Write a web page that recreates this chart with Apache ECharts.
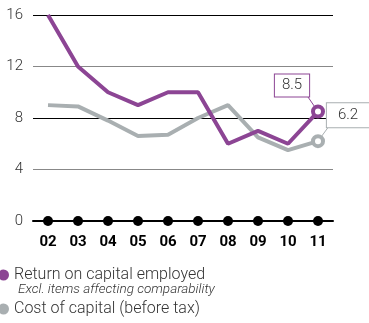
<!DOCTYPE html>
<html>
<head>
<meta charset="utf-8">
<script src="https://cdn.jsdelivr.net/npm/echarts@6/dist/echarts.min.js"></script>
<style>
  html, body { margin: 0; padding: 0; background: #fff; }
  #chart { width: 369px; height: 323px; }
</style>
</head>
<body>
<div id="chart"></div>
<script>
// Years on the category axis
const years = ['02', '03', '04', '05', '06', '07', '08', '09', '10', '11'];
// Return on capital employed, %
const roce = [16, 12, 10, 9, 10, 10, 6, 7, 6, 8.5];
// Cost of capital (before tax), %
const costOfCapital = [9, 8.9, 7.8, 6.6, 6.7, 8, 9, 6.5, 5.5, 6.2];
// Baseline dots sit on zero
const baseline = [0, 0, 0, 0, 0, 0, 0, 0, 0, 0];
const yTicks = { min: 0, max: 16, interval: 4 };

const PURPLE = '#8c4594';
const GREY = '#a9afb1';
const FONT = 'Roboto, "Liberation Sans", Arial, sans-serif';

// Callout offsets of the end-value boxes relative to their points
const callouts = [
  { series: 1, values: roce, color: PURPLE, dx: -26, dy: -26, padding: [4, 7, 3, 7], corner: [15, 10] },
  { series: 0, values: costOfCapital, color: GREY, dx: 30, dy: -26, padding: [5, 11, 4, 11], corner: [-19, 11] }
];

// Only the final year carries a hollow marker and a boxed value label
function withEndMarker(values, color, c) {
  return values.map((v, i) => {
    if (i !== values.length - 1) return v;
    return {
      value: v,
      symbol: 'circle',
      symbolSize: 10,
      itemStyle: { color: '#fff', borderColor: color, borderWidth: 4 },
      label: {
        show: true,
        formatter: String(v),
        position: 'inside',
        offset: [c.dx, c.dy],
        color: '#333',
        fontFamily: FONT,
        fontWeight: 300,
        fontSize: 15,
        backgroundColor: '#fff',
        borderColor: color,
        borderWidth: 1,
        padding: c.padding
      }
    };
  });
}

const chart = echarts.init(document.getElementById('chart'), null, { renderer: 'canvas' });

chart.setOption({
  animation: false,
  grid: { left: 33, right: 36, top: 15, bottom: 102, containLabel: false },
  xAxis: {
    type: 'category',
    data: years,
    boundaryGap: true,
    axisLine: { show: true, lineStyle: { color: '#000', width: 2 } },
    axisTick: { show: false },
    axisLabel: {
      color: '#000', fontWeight: 'bold', fontSize: 15, fontFamily: FONT, margin: 14
    }
  },
  yAxis: {
    type: 'value',
    min: yTicks.min,
    max: yTicks.max,
    interval: yTicks.interval,
    axisLine: { show: false },
    axisTick: { show: false },
    axisLabel: { color: '#333', fontSize: 15, fontWeight: 300, fontFamily: FONT, margin: 10 },
    splitLine: {
      show: true,
      lineStyle: { color: ['#000', '#888', '#000', '#888', '#000'], width: 1 }
    }
  },
  legend: {
    orient: 'vertical',
    left: -7,
    top: 262,
    itemGap: 18,
    itemWidth: 11,
    itemHeight: 11,
    icon: 'circle',
    data: [
      { name: 'Return on capital employed', itemStyle: { color: PURPLE } },
      { name: 'Cost of capital (before tax)', itemStyle: { color: GREY } }
    ],
    textStyle: { color: '#333', fontSize: 16, fontWeight: 300, fontFamily: FONT },
    selectedMode: false
  },
  series: [
    {
      name: 'Cost of capital (before tax)',
      type: 'line',
      data: withEndMarker(costOfCapital, GREY, callouts[1]),
      symbol: 'none',
      lineStyle: { color: GREY, width: 4 },
      itemStyle: { color: GREY },
      z: 3
    },
    {
      name: 'Return on capital employed',
      type: 'line',
      data: withEndMarker(roce, PURPLE, callouts[0]),
      symbol: 'none',
      lineStyle: { color: PURPLE, width: 4 },
      itemStyle: { color: PURPLE },
      z: 4
    },
    {
      name: 'baseline',
      type: 'line',
      data: baseline,
      symbol: 'circle',
      symbolSize: 10,
      lineStyle: { width: 0, opacity: 0 },
      itemStyle: { color: '#000' },
      z: 5,
      silent: true
    }
  ]
});

// Subtitle under the first legend entry, and the callout leader lines
const last = years.length - 1;
const graphics = [{
  type: 'text',
  left: 18,
  top: 283,
  style: {
    text: 'Excl. items affecting comparability',
    fill: '#333',
    font: 'italic 300 13.5px ' + FONT
  }
}];
callouts.forEach(c => {
  const p = chart.convertToPixel({ seriesIndex: c.series }, [last, c.values[last]]);
  graphics.push({
    type: 'line',
    z: 1,
    shape: { x1: p[0] + c.dx + c.corner[0], y1: p[1] + c.dy + c.corner[1], x2: p[0], y2: p[1] },
    style: { stroke: c.color, lineWidth: 1 }
  });
});
chart.setOption({ graphic: graphics });
</script>
</body>
</html>
